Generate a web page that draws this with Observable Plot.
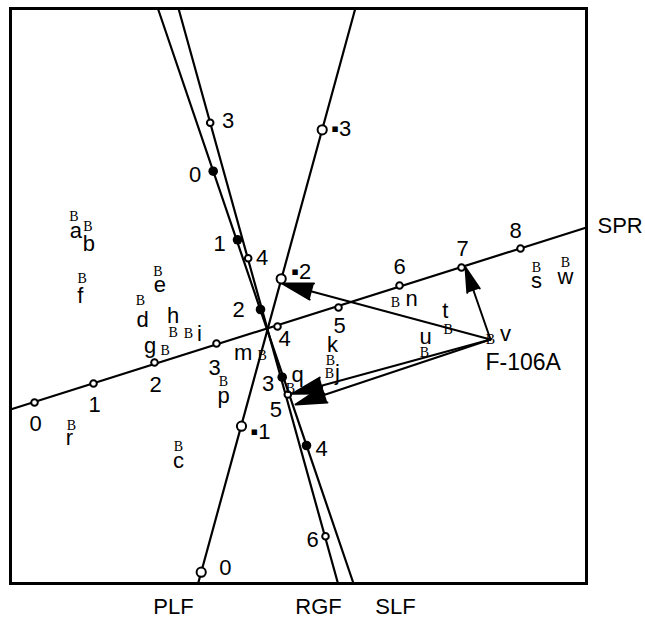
<!DOCTYPE html>
<html><head><meta charset="utf-8">
<script src="https://cdn.jsdelivr.net/npm/d3@7"></script>
<script src="https://cdn.jsdelivr.net/npm/@observablehq/plot@0.6"></script>
<style>html,body{margin:0;padding:0;background:#fff}#chart svg{display:block}</style>
</head><body><div id="chart"></div>
<script>
// ---- Data (biplot coordinates, arbitrary plot units) ----
const pointNames = ["a","b","c","d","e","f","g","h","i","j","k","m","n","p","q","r","s","t","u","v","w"];
const pointX = [63.3,77.3,168,130,147.3,71.7,154.7,162.7,178,319,320,251.7,385,213,280,61,526,437.7,414,480,555];
const pointY = [367,357.3,137,283,312,305,233,251.3,250,210,223,228,281.3,202,195,158,316.3,254,231.3,244,321];
const highlightName = "F-106A"; // point v

const axisNames = ["SPR","PLF","RGF","SLF"];

const sprTicks = ["0","1","2","3","4","5","6","7","8"];
const sprX = [24,83,144,206,267,328,389,451,510];
const sprY = [181,200,221,240,257,276,298,316,335];
const sprLineX = [0,576], sprLineY = [174,356];

const plfTicks = ["0","\u25AA1","\u25AA2","\u25AA3"];
const plfX = [190.7,231,270.7,311.7];
const plfY = [11.3,157.3,304.7,453.7];
const plfLineX = [187.6,344.8], plfLineY = [0,575];

const rgfTicks = ["3","4","5","6"];
const rgfX = [199.7,237.7,277.3,315];
const rgfY = [460.7,325.3,189,47.3];
const rgfLineX = [168,327.5], rgfLineY = [575,0];

const slfTicks = ["0","1","2","3","4"];
const slfX = [202.7,227,250,271.7,296];
const slfY = [412.3,343.7,274,206.3,138];
const slfLineX = [147.4,343], slfLineY = [575,0];

// predicted values of v on each axis (arrow ends): PLF, SPR, RGF, SLF
const arrowX = [271.5,455,281.7,285];
const arrowY = [300,316,189.7,179];

// ---- Layout (label offsets in px) ----
const pointLabelOffset = {a:[2,14],b:[1,18],c:[0,14],d:[2,19],e:[2,13],f:[-2,17],g:[-15,-5],h:[0,-16],i:[11,0],
  j:[8,-1],k:[2,-16],m:[-19,-3],n:[16,-3],p:[0,14],q:[7,-14],r:[-2,12],s:[0,14],t:[-3,-19],u:[1,-15],v:[15,-6],w:[0,14]};
const sprOff = [[1,21],[1,21],[1,22],[-2,24],[7,12],[1,18],[0,-19],[1,-19],[-5,-18]];
const plfOff = [[18,-4],[9,6],[10,-7],[9,-1]];
const rgfOff = [[18,-2],[14,0],[-12,15],[-13,4]];
const slfOff = [[-18,4],[-18,4],[-22,0],[-14,7],[15,3]];
const axisNamePos = {SPR:[587,358,"start"], PLF:[163,-23,"middle"], RGF:[308,-23,"middle"], SLF:[385,-23,"middle"]};

const FS = 22;
const font = "'Liberation Sans', Arial, Helvetica, sans-serif";

const zip = (xs, ys) => xs.map((x, i) => ({x, y: ys[i]}));

const labelMarks = (xs, ys, texts, offs, anchor = "middle") =>
  texts.map((t, i) => Plot.text([0], {x: [xs[i]], y: [ys[i]], text: [t], dx: offs[i][0], dy: offs[i][1],
    textAnchor: anchor, fontSize: FS, fill: "black"}));

const vIndex = pointNames.indexOf("v");
const vx = pointX[vIndex], vy = pointY[vIndex];

const lineMark = (xs, ys) => Plot.line(zip(xs, ys), {x: "x", y: "y", stroke: "black", strokeWidth: 2.2});

const chart = Plot.plot({
  width: 645, height: 619,
  marginLeft: 10, marginRight: 59, marginTop: 8, marginBottom: 36,
  x: {domain: [0, 576], axis: null},
  y: {domain: [0, 575], axis: null},
  style: {fontFamily: font, background: "white"},
  marks: [
    lineMark(sprLineX, sprLineY),
    lineMark(plfLineX, plfLineY),
    lineMark(rgfLineX, rgfLineY),
    lineMark(slfLineX, slfLineY),
    Plot.arrow(arrowX.map((x, i) => ({x2: x, y2: arrowY[i]})), {
      x1: () => vx, y1: () => vy, x2: "x2", y2: "y2",
      stroke: "black", fill: "black", strokeWidth: 2, headLength: 24, headAngle: 30
    }),
    Plot.dot(zip(sprX, sprY), {x: "x", y: "y", r: 3.3, fill: "white", stroke: "black", strokeWidth: 2}),
    Plot.dot(zip(plfX, plfY), {x: "x", y: "y", r: 4.6, fill: "white", stroke: "black", strokeWidth: 2}),
    Plot.dot(zip(rgfX, rgfY), {x: "x", y: "y", r: 3.3, fill: "white", stroke: "black", strokeWidth: 2}),
    Plot.dot(zip(slfX, slfY), {x: "x", y: "y", r: 4.8, fill: "black"}),
    // point markers
    Plot.text(zip(pointX, pointY), {x: "x", y: "y", text: () => "B", fontFamily: "'Liberation Serif', 'Times New Roman', serif", fontSize: 14, fill: "black"}),
    // point labels
    ...pointNames.map((n, i) => Plot.text([0], {x: [pointX[i]], y: [pointY[i]], text: [n],
      dx: pointLabelOffset[n][0], dy: pointLabelOffset[n][1], fontSize: FS, fill: "black"})),
    Plot.text([0], {x: [vx], y: [vy], text: [highlightName], dx: -5, dy: 23, textAnchor: "start", fontSize: 23, fill: "black"}),
    // tick labels
    ...labelMarks(sprX, sprY, sprTicks, sprOff),
    ...labelMarks(plfX, plfY, plfTicks, plfOff, "start"),
    ...labelMarks(rgfX, rgfY, rgfTicks, rgfOff),
    ...labelMarks(slfX, slfY, slfTicks, slfOff),
    // axis names
    ...axisNames.map(n => Plot.text([0], {x: [axisNamePos[n][0]], y: [axisNamePos[n][1]], text: [n],
      textAnchor: axisNamePos[n][2], fontSize: FS, fill: "black"})),
    Plot.frame({stroke: "black", strokeWidth: 3})
  ]
});
document.getElementById("chart").appendChild(chart);
</script>
</body></html>
